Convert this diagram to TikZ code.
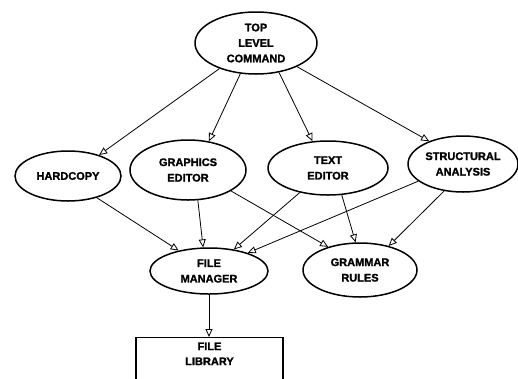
\documentclass[tikz,border=0pt]{standalone}
\usepackage{fontspec}
\setmainfont{Liberation Sans}[BoldFeatures={FakeBold=1.5}]
\usetikzlibrary{shapes.geometric,arrows.meta}
\begin{document}
\begin{tikzpicture}[x=1pt,y=-1pt,
  ell/.style={ellipse,draw=black,line width=1.5pt,inner sep=0pt,align=center,
    font=\fontsize{11}{15.5}\selectfont\bfseries},
  arr/.style={line width=0.8pt,-{Triangle[open,length=8pt,width=7pt,line width=0.8pt]}},
  boxn/.style={rectangle,draw=black,line width=1.2pt,inner sep=0pt,align=center,
    font=\fontsize{11}{15}\selectfont\bfseries}]
\useasboundingbox (0,0) rectangle (518,378);
\clip (0,0) rectangle (518,378);
\node[ell,minimum width=122pt,minimum height=62pt] (top) at (256,43) {TOP\\LEVEL\\COMMAND};
\node[ell,minimum width=106pt,minimum height=50pt] (hard) at (68,176) {HARDCOPY};
\node[ell,minimum width=116pt,minimum height=60pt] (graph) at (188,170) {GRAPHICS\\EDITOR};
\node[ell,minimum width=120pt,minimum height=54pt] (text) at (328,168) {TEXT\\EDITOR};
\node[ell,minimum width=110pt,minimum height=56pt] (struct) at (463,164) {STRUCTURAL\\ANALYSIS};
\node[ell,minimum width=118pt,minimum height=46pt] (fm) at (209,271) {FILE\\MANAGER};
\node[ell,minimum width=114pt,minimum height=54pt] (gram) at (360,270) {GRAMMAR\\RULES};
\node[boxn,minimum width=147pt,minimum height=60pt,anchor=north] (lib) at (209.5,337) {};
\node[font=\fontsize{11}{15}\selectfont\bfseries,align=center,anchor=north] (libt) at ([yshift=-2pt]lib.north) {FILE\\LIBRARY};

\draw[arr] (top.215) -- (hard.34);
\draw[arr] (top.243) -- (graph.54);
\draw[arr] (top.308) -- (text.120);
\draw[arr] (top.330) -- (struct.146);

\draw[arr] (hard.323) -- (fm.146);
\draw[arr] (graph.288) -- (fm.104);
\draw[arr] (graph.334) -- (gram.144);
\draw[arr] (text.221) -- (fm.41);
\draw[arr] (text.297) -- (gram.99);
\draw[arr] (struct.201) -- (fm.25);
\draw[arr] (struct.235) -- (gram.40);
\draw[arr] (fm.south) -- (fm.south |- lib.north);
\end{tikzpicture}
\end{document}
